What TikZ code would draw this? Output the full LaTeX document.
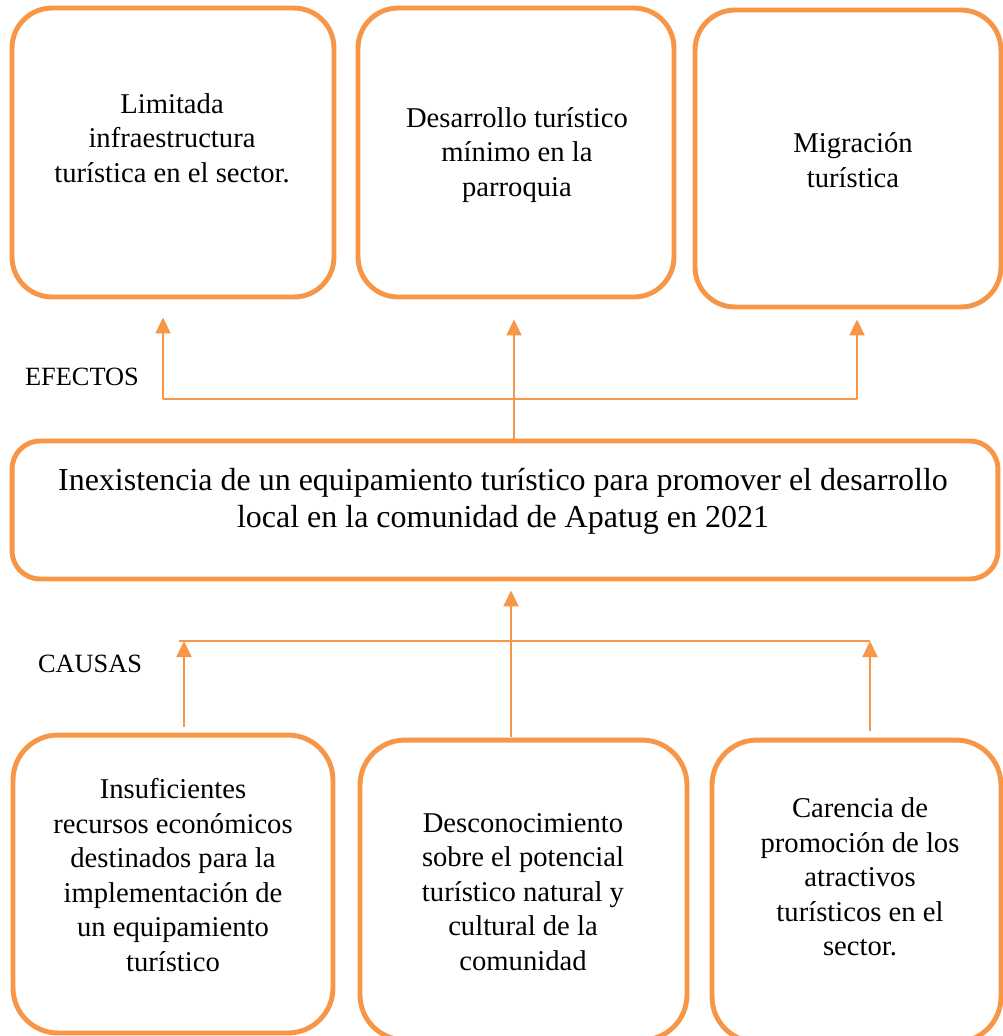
\documentclass[tikz,border=0pt]{standalone}
\usepackage{fontspec}
\setmainfont{Liberation Serif}
\usetikzlibrary{arrows.meta}
\definecolor{naranja}{HTML}{F79646}
\tikzset{
	caja/.style={draw=naranja, line width=2.8pt, rounded corners=0.8cm, inner sep=0pt},
	texto/.style={align=center, inner sep=0pt, font=\fontsize{16.3}{19.6}\selectfont},
	flecha/.style={draw=naranja, line width=1.1pt, -{Triangle[length=0.32cm,width=0.3cm]}},
	linea/.style={draw=naranja, line width=1.1pt}
}

\begin{document}
\begin{tikzpicture}[x=0.02cm, y=-0.02cm]
		\useasboundingbox (0,0) rectangle (1003,1036);
		\clip (0,0) rectangle (1003,1036);
		\node[caja, minimum width=6.44cm, minimum height=5.78cm] (e1) at (173,152.5) {};
		\node[caja, minimum width=6.32cm, minimum height=5.78cm] (e2) at (516,152.5) {};
		\node[caja, minimum width=6.12cm, minimum height=5.94cm] (e3) at (848,158.5) {};
		\node[texto] (e1t) at (172,138) {Limitada\\infraestructura\\turística en el sector.};
		\node[texto] (e2t) at (517,155) {Desarrollo turístico\\mínimo en la\\parroquia};
		\node[texto] (e3t) at (853,160) {Migración\\turística};
		\node[caja, rounded corners=0.56cm, minimum width=19.72cm, minimum height=2.76cm] (problema) at (505,510) {};
		\node[texto, font=\fontsize{18.2}{21}\selectfont] (problemat) at (503,501)
		{Inexistencia de un equipamiento turístico para promover el desarrollo\\local en la comunidad de Apatug en 2021};
		\node[caja, rounded corners=0.9cm, minimum width=6.4cm, minimum height=5.96cm] (c1) at (173,884) {};
		\node[caja, rounded corners=0.9cm, minimum width=6.54cm, minimum height=6cm] (c2) at (523.5,890) {};
		\node[caja, rounded corners=0.9cm, minimum width=5.78cm, minimum height=6.04cm] (c3) at (856.5,891) {};
		\node[texto] (c1t) at (173,875) {Insuficientes\\recursos económicos\\destinados para la\\implementación de\\un equipamiento\\turístico};
		\node[texto] (c2t) at (523,892) {Desconocimiento\\sobre el potencial\\turístico natural y\\cultural de la\\comunidad};
		\node[texto] (c3t) at (860,877) {Carencia de\\promoción de los\\atractivos\\turísticos en el\\sector.};
		\node[texto, font=\fontsize{15}{18}\selectfont] (efectos) at (82,377) {EFECTOS};
		\node[texto, font=\fontsize{15}{18}\selectfont] (causas) at (90,664) {CAUSAS};
		% efectos
		\coordinate (ef1) at (163,399);
		\coordinate (ef3) at (857,399);
		\draw[linea] (ef1) -- (ef3);
		\draw[flecha, shorten >=0.36cm] (ef1) -- (ef1 |- e1.south);
		\draw[flecha, shorten >=0.2cm] (ef3) -- (ef3 |- e3.south);
		\draw[flecha, shorten >=0.4cm] (problema.north -| 514,0) -- (e2.south -| 514,0);
		% causas
		\coordinate (h1) at (179,641);
		\coordinate (h3) at (870,641);
		\coordinate (ca1) at (184,727);
		\coordinate (ca2) at (511,737);
		\coordinate (ca3) at (870,731);
		\draw[linea] (h1) -- (h3);
		\draw[flecha] (ca1) -- (ca1 |- h1);
		\draw[flecha] (ca3) -- (ca3 |- h3);
		\draw[flecha, shorten >=0.18cm] (ca2) -- (ca2 |- problema.south);
	\end{tikzpicture}
\end{document}
